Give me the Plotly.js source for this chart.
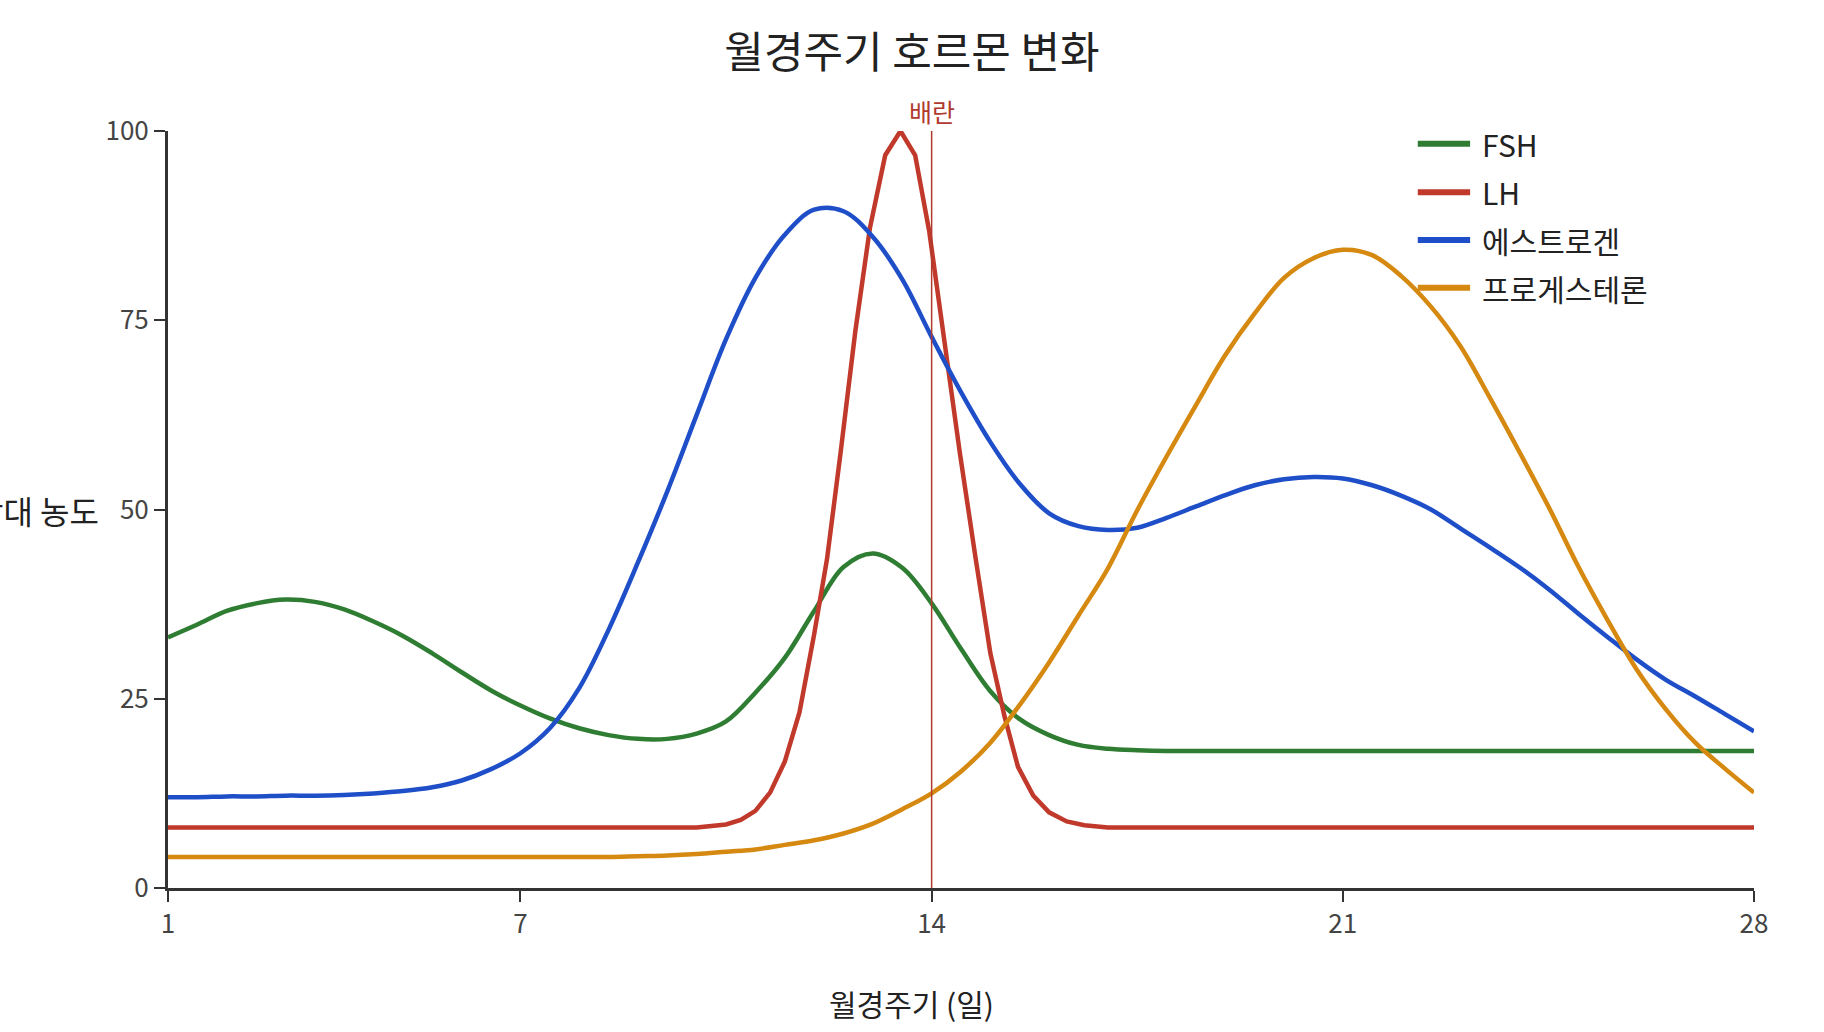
<!DOCTYPE html>
<html>
<head>
<meta charset="utf-8">
<script src="https://cdn.plot.ly/plotly-3.0.1.min.js"></script>
<style>
  html,body{margin:0;padding:0;background:#fff;}
  #grafico{width:1824px;height:1032px;}
</style>
</head>
<body>
<div id="grafico"></div>
<script>
// dias del ciclo (medio dia)
var dias = [1,1.5,2,2.5,3,3.5,4,4.5,5,5.5,6,6.5,7,7.5,8,8.5,9,9.5,10,10.5,
  11,11.5,12,12.5,13,13.5,14,14.5,15,15.5,16,16.5,17,17.5,18,18.5,19,19.5,20,20.5,
  21,21.5,22,22.5,23,23.5,24,24.5,25,25.5,26,26.5,27,27.5,28];

var fsh = [33.1,34.8,36.6,37.6,38.1,37.8,36.8,35.2,33.3,31.0,28.5,26.1,24.1,22.4,21.1,20.2,19.7,19.7,20.4,22.0,
  25.8,30.4,36.6,42.4,44.2,42.3,37.6,31.6,26.0,22.3,20.2,18.9,18.4,18.2,18.1,18.1,18.1,18.1,18.1,18.1,
  18.1,18.1,18.1,18.1,18.1,18.1,18.1,18.1,18.1,18.1,18.1,18.1,18.1,18.1,18.1];

var estrogeno = [12.0,12.0,12.1,12.1,12.2,12.2,12.3,12.5,12.8,13.3,14.2,15.7,17.8,21.1,26.4,34.1,43.0,52.4,62.5,72.5,
  80.6,86.3,89.6,89.4,86.0,80.4,72.8,65.5,58.9,53.4,49.5,47.8,47.3,47.6,48.9,50.4,51.9,53.2,54.0,54.3,
  54.1,53.2,51.8,50.0,47.5,45.0,42.4,39.5,36.3,33.2,30.2,27.5,25.3,23.0,20.7];

var progesterona = [4.1,4.1,4.1,4.1,4.1,4.1,4.1,4.1,4.1,4.1,4.1,4.1,4.1,4.1,4.1,4.1,4.2,4.3,4.5,4.8,
  5.1,5.7,6.3,7.2,8.5,10.4,12.5,15.4,19.2,24.2,29.8,36.0,42.2,49.9,57.0,63.8,70.4,75.9,80.6,83.2,
  84.3,83.6,80.8,76.8,71.6,64.8,57.7,50.4,42.6,35.5,28.9,23.6,19.2,15.8,12.6];

// LH tiene su propia rejilla (pico estrecho)
var diasLH = [1,10,10.5,10.75,11,11.25,11.5,11.75,12,12.22,12.45,12.7,12.95,13.21,13.47,13.72,13.96,14.23,
  14.48,14.75,15,15.24,15.47,15.73,16,16.3,16.6,17,28];
var lh = [8.0,8.0,8.4,9.0,10.2,12.6,16.7,23.2,33.5,43.5,57.5,73.5,87.2,96.8,100,96.8,86.7,71.5,
  57.5,43.5,31.0,22.7,16.0,12.2,10.0,8.8,8.3,8.0,8.0];

var nombres = ["FSH","LH","에스트로겐","프로게스테론"];
var colores = ["#2e7d32","#c0392b","#1f4fc8","#d68910"];
var diaOvulacion = 14;
var ticksX = [1,7,14,21,28];
var ticksY = [0,25,50,75,100];

var fuente = "'Noto Sans CJK KR', 'Noto Sans', sans-serif";

var trace1 = {x: dias, y: fsh, type: 'scatter', mode: 'lines', name: nombres[0],
  line: {color: colores[0], width: 4.5, shape: 'spline'}, cliponaxis: false};
var trace2 = {x: diasLH, y: lh, type: 'scatter', mode: 'lines', name: nombres[1],
  line: {color: colores[1], width: 4.5}, cliponaxis: false};
var trace3 = {x: dias, y: estrogeno, type: 'scatter', mode: 'lines', name: nombres[2],
  line: {color: colores[2], width: 4.5, shape: 'spline'}, cliponaxis: false};
var trace4 = {x: dias, y: progesterona, type: 'scatter', mode: 'lines', name: nombres[3],
  line: {color: colores[3], width: 4.5, shape: 'spline'}, cliponaxis: false};

var data = [trace1, trace2, trace3, trace4];

// leyenda dibujada a mano (linea larga)
var filasLeyenda = [0.983, 0.919, 0.856, 0.793];
var formas = [{
  type: 'line', xref: 'x', yref: 'y', x0: diaOvulacion, x1: diaOvulacion, y0: 0, y1: 100,
  line: {color: '#b03a2e', width: 1.5}
}];
var notas = [
  {xref: 'x', yref: 'y', x: diaOvulacion, y: 100, text: '배란', showarrow: false,
   xanchor: 'center', yanchor: 'bottom', font: {family: fuente, size: 25, color: '#b03a2e'}},
  {xref: 'paper', yref: 'y', x: -0.0422, y: 50, text: '상대 농도', showarrow: false,
   xanchor: 'right', yanchor: 'middle', font: {family: fuente, size: 32, color: '#222'}},
  {xref: 'paper', yref: 'paper', x: 0.469, y: -0.1525, text: '월경주기 (일)', showarrow: false,
   xanchor: 'center', yanchor: 'middle', font: {family: fuente, size: 30, color: '#222'}}
];
for (let i = 0; i < nombres.length; i++) {
  formas.push({type: 'line', xref: 'paper', yref: 'paper', x0: 0.788, x1: 0.821,
    y0: filasLeyenda[i], y1: filasLeyenda[i], line: {color: colores[i], width: 6}});
  notas.push({xref: 'paper', yref: 'paper', x: 0.8275, y: filasLeyenda[i], text: nombres[i],
    showarrow: false, xanchor: 'left', yanchor: 'middle',
    font: {family: fuente, size: 30, color: '#222'}});
}

var layout = {
  width: 1824, height: 1032,
  margin: {l: 168, r: 70, t: 131, b: 144},
  paper_bgcolor: '#fff', plot_bgcolor: '#fff',
  font: {family: fuente, size: 26, color: '#444'},
  showlegend: false,
  title: {text: '월경주기 호르몬 변화', x: 0.5, xref: 'container', y: 0.949, yanchor: 'middle',
    font: {family: fuente, size: 43, color: '#222'}},
  xaxis: {range: [1, 28], tickvals: ticksX, ticktext: ticksX.map(String),
    showline: true, linecolor: '#333', linewidth: 3, ticks: 'outside', ticklen: 11,
    tickwidth: 2, tickcolor: '#333', showgrid: false, zeroline: false,
    tickfont: {size: 26, color: '#444'}},
  yaxis: {range: [0, 100], tickvals: ticksY, ticktext: ticksY.map(String),
    showline: true, linecolor: '#333', linewidth: 3, ticks: 'outside', ticklen: 11,
    tickwidth: 2, tickcolor: '#333', showgrid: false, zeroline: false,
    tickfont: {size: 26, color: '#444'}},
  shapes: formas,
  annotations: notas
};

Plotly.newPlot("grafico", data, layout, {displayModeBar: false, staticPlot: true});
</script>
</body>
</html>
